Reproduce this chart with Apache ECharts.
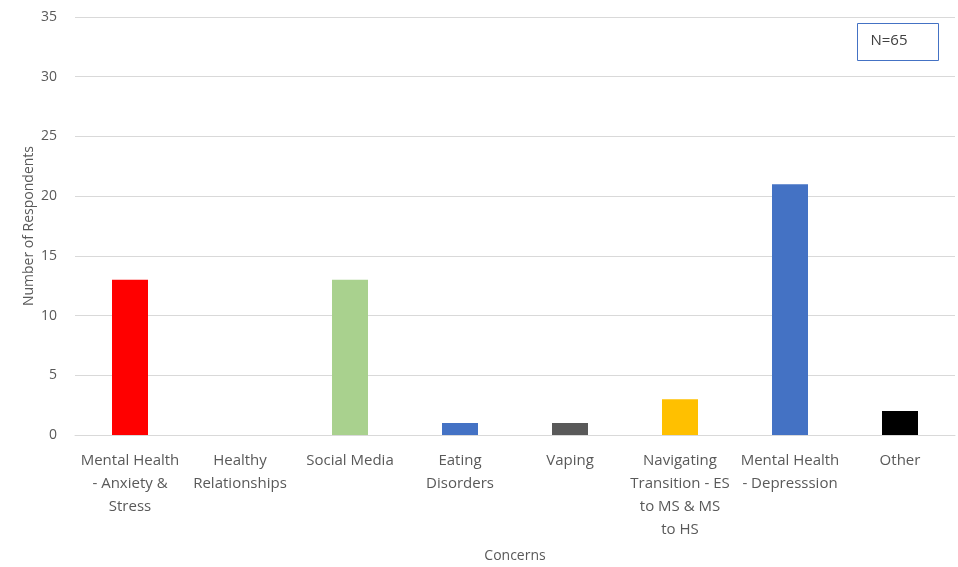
<!DOCTYPE html>
<html><head><meta charset="utf-8">
<script src="https://cdn.jsdelivr.net/npm/echarts@6/dist/echarts.min.js"></script>
<style>html,body{margin:0;padding:0;background:#fff}#c{width:958px;height:567px}</style>
</head><body><div id="c"></div>
<script>
const categories = ["Mental Health\n- Anxiety &\nStress","Healthy\nRelationships","Social Media","Eating\nDisorders","Vaping","Navigating\nTransition - ES\nto MS & MS\nto HS","Mental Health\n- Depresssion","Other"];
const values = [13, 0, 13, 1, 1, 3, 21, 2];
const barColors = ["#FF0000","#4472C4","#A9D18E","#4472C4","#595959","#FFC000","#4472C4","#000000"];
const yTicks = [0,5,10,15,20,25,30,35];

const chart = echarts.init(document.getElementById('c'), null, {renderer:'canvas'});
const font = '"Open Sans", "Liberation Sans", sans-serif';
chart.setOption({
  animation:false,
  grid:{left:75,right:3,top:17,bottom:132,containLabel:false,outerBoundsMode:'none'},
  xAxis:{type:'category',data:categories,
    name:'Concerns',nameLocation:'middle',nameGap:114,nameMoveOverlap:false,
    nameTextStyle:{color:'#595959',fontSize:14,fontFamily:font},
    axisLine:{lineStyle:{color:'#d9d9d9'}},axisTick:{show:false},
    axisLabel:{interval:0,color:'#595959',fontSize:15,fontFamily:font,lineHeight:23,margin:14}},
  yAxis:{type:'value',min:0,max:35,interval:5,
    name:'Number of Respondents',nameLocation:'middle',nameGap:39,nameMoveOverlap:false,
    nameTextStyle:{color:'#595959',fontSize:14,fontFamily:font},
    axisLine:{show:false},axisTick:{show:false},
    splitLine:{lineStyle:{color:'#d9d9d9'}},
    axisLabel:{color:'#595959',fontSize:14,fontFamily:font,margin:18,
      formatter:v=>yTicks.includes(v)?String(v):''}},
  series:[{type:'bar',barWidth:36,
    data:values.map((v,i)=>({value:v,itemStyle:{color:barColors[i]}}))}],
  graphic:[{type:'group',left:857,top:23,children:[
    {type:'rect',shape:{x:0,y:0,width:81,height:37},style:{fill:'#fff',stroke:'#4472C4',lineWidth:1}},
    {type:'text',x:13,y:10,style:{text:'N=65',fill:'#404040',fontSize:15,fontFamily:font}}
  ]}]
});
</script></body></html>
